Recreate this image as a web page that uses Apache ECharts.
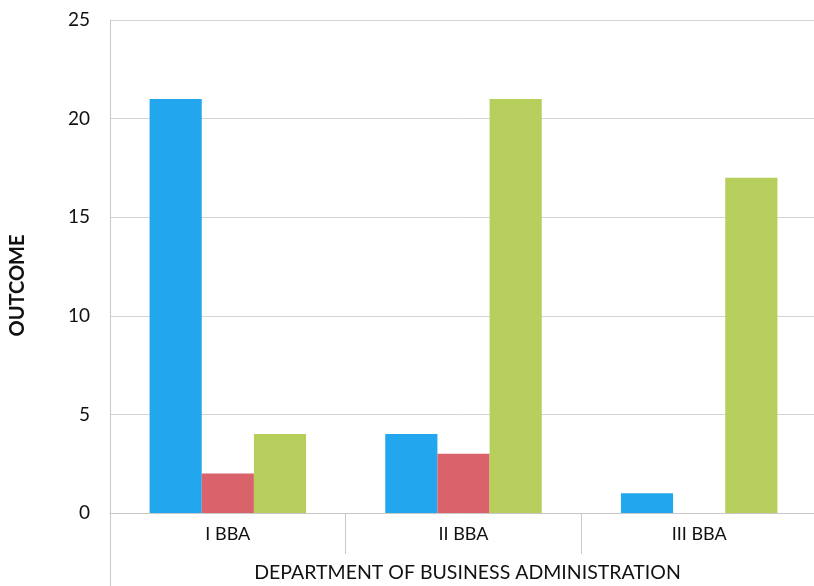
<!DOCTYPE html>
<html><head><meta charset="utf-8">
<script src="https://cdn.jsdelivr.net/npm/echarts@6/dist/echarts.min.js"></script>
<style>html,body{margin:0;padding:0;background:#fff}#c{width:814px;height:586px}</style>
</head><body><div id="c"></div>
<script>
const categories = ['I BBA', 'II BBA', 'III BBA'];
const seriesA = [21, 4, 1];
const seriesB = [2, 3, 0];
const seriesC = [4, 21, 17];
const yTicks = [0, 5, 10, 15, 20, 25];

const font = 'Lato, "Open Sans", sans-serif';
const chart = echarts.init(document.getElementById('c'));
chart.setOption({
  animation: false,
  grid: {left: 110, right: -3, top: 20, bottom: 73, containLabel: false, outerBoundsMode: 'none'},
  xAxis: {
    type: 'category', data: categories,
    name: 'DEPARTMENT OF BUSINESS ADMINISTRATION', nameLocation: 'middle', nameGap: 50,
    nameTextStyle: {fontFamily: font, fontSize: 19.5, color: '#111', padding: [0, 0, 0, 8]},
    axisLine: {lineStyle: {color: '#c8c8c8'}},
    axisTick: {show: true, length: 41, lineStyle: {color: '#c8c8c8'}},
    axisLabel: {fontFamily: font, fontSize: 18, color: '#111', margin: 12}
  },
  yAxis: {
    type: 'value', min: yTicks[0], max: yTicks[yTicks.length - 1], interval: 5,
    name: 'OUTCOME', nameLocation: 'middle', nameGap: 82,
    nameTextStyle: {fontFamily: font, fontSize: 20, fontWeight: 'bold', color: '#111', padding: [0, 38, 0, 0]},
    axisLine: {show: true, lineStyle: {color: '#c8c8c8'}},
    splitLine: {lineStyle: {color: '#d4d4d4'}},
    axisLabel: {fontFamily: font, fontSize: 19, color: '#111', margin: 20}
  },
  graphic: [{type: 'line', shape: {x1: 110.5, y1: 513, x2: 110.5, y2: 586}, style: {stroke: '#c8c8c8', lineWidth: 1}}],
  series: [
    {type: 'bar', data: seriesA, itemStyle: {color: '#22A7EE'}, barGap: '0%', barCategoryGap: '33.6%'},
    {type: 'bar', data: seriesB, itemStyle: {color: '#D9626B'}},
    {type: 'bar', data: seriesC, itemStyle: {color: '#B5CE5C'}}
  ]
});
</script></body></html>
